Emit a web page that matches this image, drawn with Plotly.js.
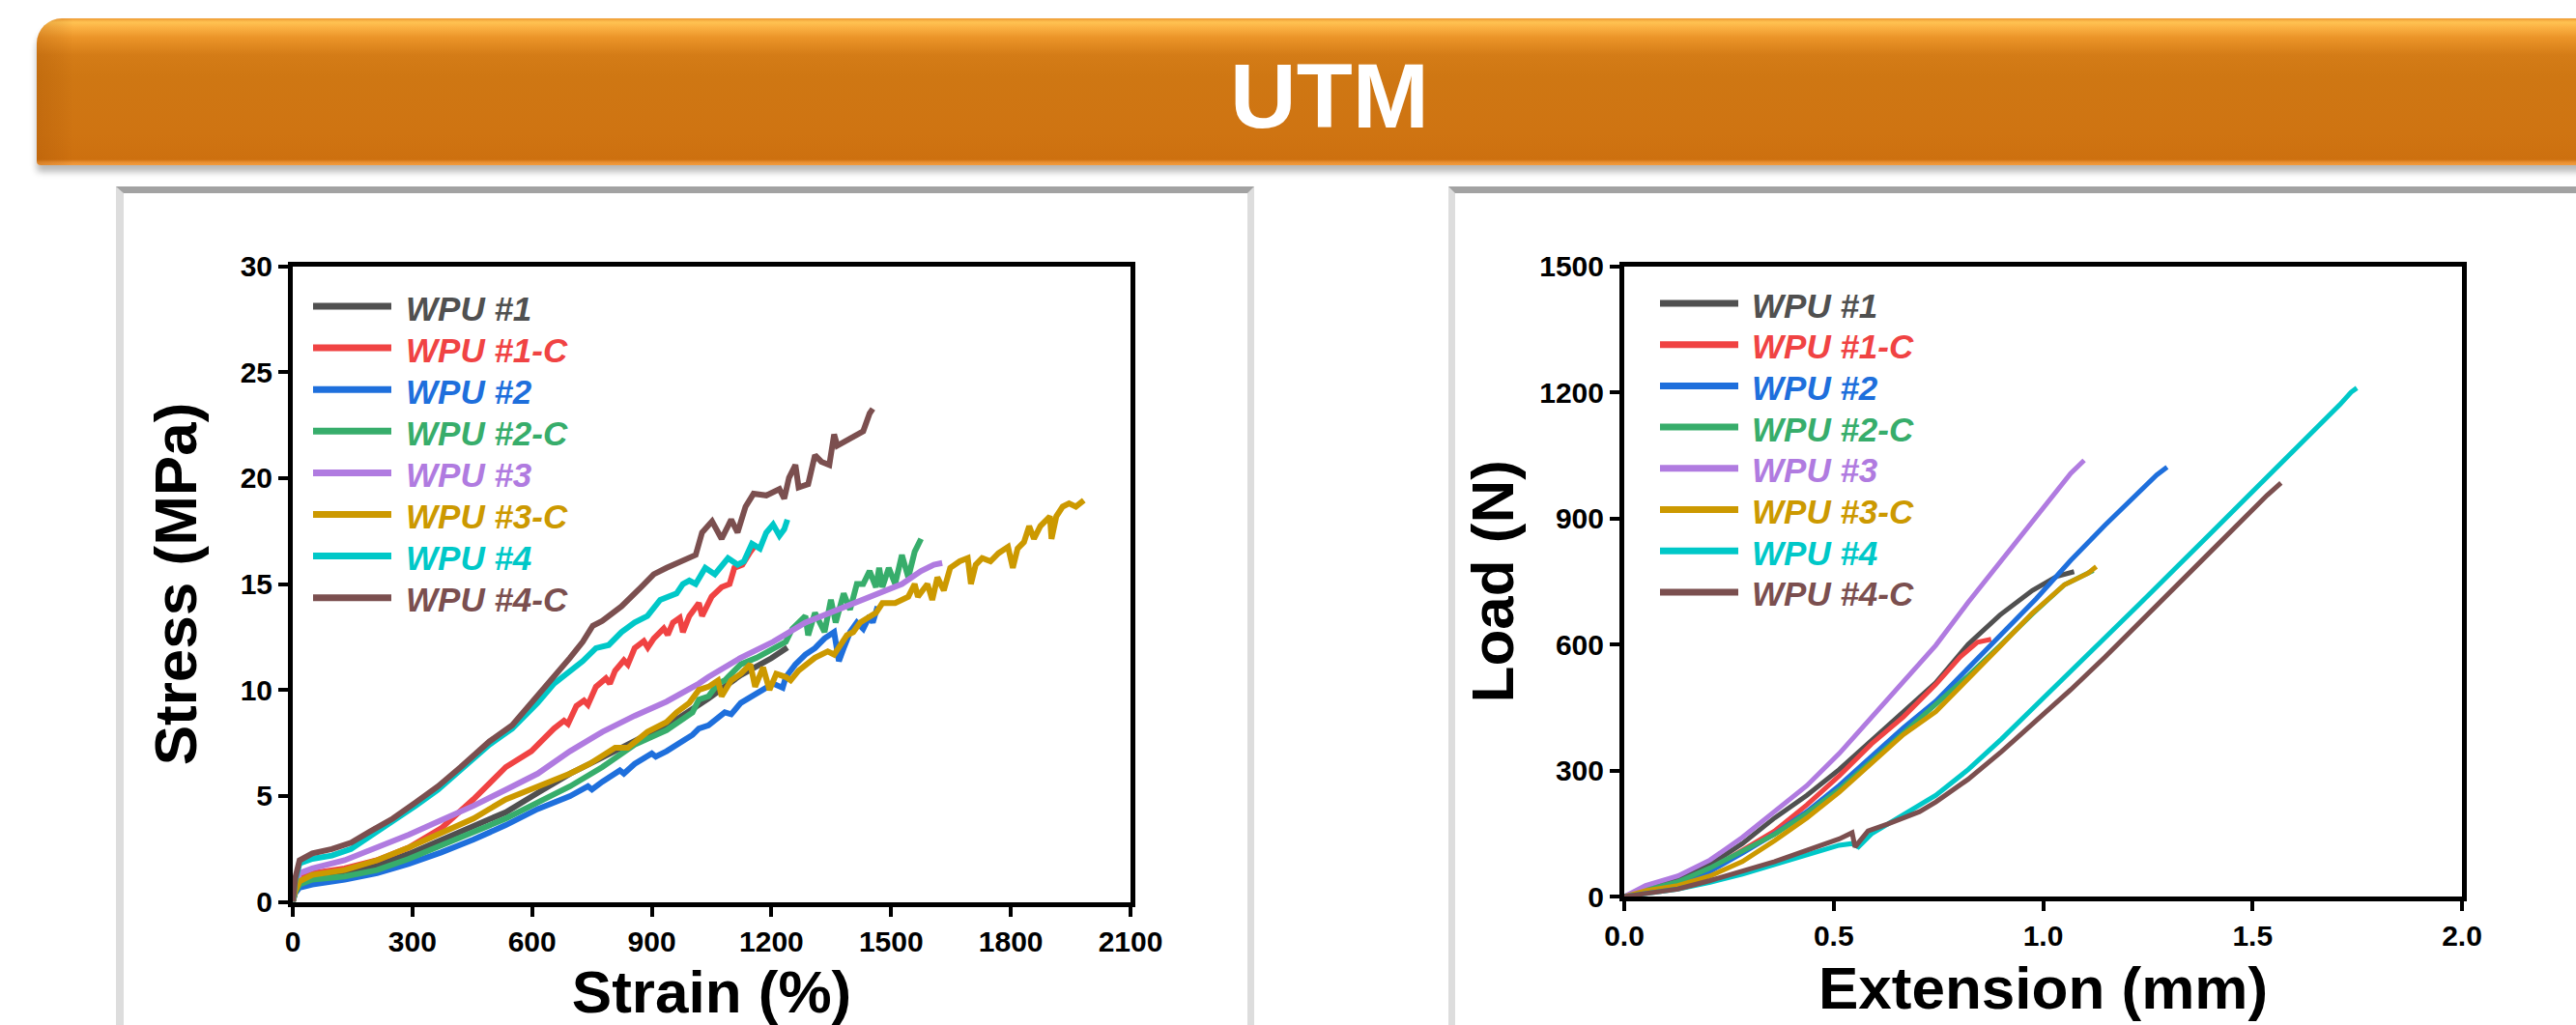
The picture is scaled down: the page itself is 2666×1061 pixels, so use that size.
<!DOCTYPE html>
<html>
<head>
<meta charset="utf-8">
<script src="https://cdn.plot.ly/plotly-3.0.1.min.js"></script>
<style>
  html, body { margin:0; padding:0; background:#ffffff; overflow:hidden; }
  #stage { position:relative; width:2666px; height:1061px; overflow:hidden; background:#fff; }
  #banner {
    position:absolute; left:38px; top:19px; width:2700px; height:152px;
    border-top-left-radius:26px; border-bottom-left-radius:4px;
    background:linear-gradient(to bottom,#ee9a34 0px,#ffc352 4px,#fbb244 9px,#eb9428 20px,#d47c17 38px,#cf7713 60px,#cf7412 120px,#cd700f 146px,#e98f33 149px,#f29c3e 152px);
    box-shadow:0 7px 7px rgba(0,0,0,0.28);
  }
  #bevel {
    position:absolute; left:0; top:0; width:38px; height:152px;
    border-top-left-radius:26px; border-bottom-left-radius:4px;
    background:linear-gradient(to right, rgba(150,70,0,0.22), rgba(150,70,0,0.08) 70%, rgba(150,70,0,0));
  }
  .panel { position:absolute; top:193px; height:900px; background:#fff; box-sizing:border-box;
    border-top:7px solid #a2a2a2; }
  #panelL { left:120px; width:1178px; border-left:8px solid #dddddd; border-right:7px solid #dddddd; }
  #panelR { left:1499px; width:1300px; border-left:7px solid #dddddd; }
  #plot { position:absolute; left:0; top:0; width:2666px; height:1061px; }
</style>
</head>
<body>
<div id="stage">
  <div id="banner"><div id="bevel"></div></div>
  <div class="panel" id="panelL"></div>
  <div class="panel" id="panelR"></div>
  <div id="plot"></div>
</div>
<script>
// ---------------- DATA ----------------
const seriesNames = ["WPU #1","WPU #1-C","WPU #2","WPU #2-C","WPU #3","WPU #3-C","WPU #4","WPU #4-C"];
const seriesColors = ["#505050","#f04343","#1e6fdc","#37ad6b","#b07be0","#cc9900","#00c8c8","#7b4f4f"];

const xTicksStrain = [0,300,600,900,1200,1500,1800,2100];
const yTicksStress = [0,5,10,15,20,25,30];
const xTicksExt = [0,0.5,1.0,1.5,2.0];
const yTicksLoad = [0,300,600,900,1200,1500];

// Stress (MPa) vs Strain (%)
const strain1 = [0,6,17,49,130,211,291,372,453,534,614,695,776,840,889,962,1042,1123,1200,1240];
const stress1 = [0,0.5,0.90,1.12,1.35,1.73,2.26,2.94,3.62,4.23,5.14,6.05,6.81,7.42,7.88,8.6,9.6,10.7,11.5,12.0];

const strain1C = [0,6,17,49,130,211,291,372,453,534,598,655,680,690,711,730,740,760,785,795,808,830,840,857,880,890,905,930,940,953,970,978,994,1018,1026,1050,1075,1095,1107,1127,1147,1159];
const stress1C = [0,0.6,1.2,1.35,1.58,1.96,2.56,3.47,4.84,6.36,7.11,8.18,8.55,8.4,9.24,9.5,9.3,10.15,10.55,10.3,10.91,11.4,11.2,11.97,12.3,12.0,12.43,12.9,12.6,13.18,13.4,12.73,13.49,14.1,13.49,14.40,14.85,15.0,15.76,15.91,16.52,16.82];

const strain2 = [0,6,17,49,130,211,291,372,453,534,614,695,740,750,776,820,830,857,900,910,937,962,1002,1018,1042,1083,1099,1123,1163,1204,1228,1236,1260,1285,1309,1333,1357,1369,1381,1397,1414,1430,1446,1454,1466];
const stress2 = [0,0.4,0.67,0.82,1.05,1.35,1.80,2.33,2.94,3.62,4.38,4.99,5.45,5.3,5.67,6.2,6.05,6.51,7.0,6.85,7.11,7.42,7.88,8.18,8.33,8.94,8.85,9.39,9.85,10.30,10.1,10.61,11.21,11.67,11.97,12.43,12.73,11.36,11.97,12.73,13.18,12.88,13.49,13.18,13.94];

const strain2C = [0,6,17,49,130,211,291,372,453,534,614,695,776,857,937,962,1002,1018,1042,1066,1083,1091,1123,1163,1204,1236,1252,1268,1285,1292,1309,1333,1349,1361,1381,1397,1414,1430,1446,1462,1470,1478,1494,1510,1527,1543,1559,1575];
const stress2C = [0,0.45,0.82,1.05,1.20,1.50,2.03,2.64,3.32,3.93,4.69,5.45,6.36,7.42,8.1,8.4,8.94,9.54,9.70,10.30,10.45,10.61,11.21,11.52,11.97,12.27,12.88,13.18,13.49,12.58,13.64,12.73,14.25,13.18,14.55,13.79,15.0,15.0,15.61,14.85,15.76,14.85,15.76,15.0,16.37,15.31,16.52,17.13];

const strain3 = [0,6,17,49,130,211,291,372,453,534,614,695,776,857,937,1018,1042,1123,1204,1285,1365,1446,1527,1575,1607,1628];
const stress3 = [0,0.7,1.35,1.58,1.96,2.56,3.17,3.85,4.53,5.29,6.05,7.11,8.02,8.78,9.45,10.3,10.61,11.52,12.27,13.18,13.79,14.40,15.0,15.61,15.91,15.99];

const strain3C = [0,6,17,49,130,211,291,372,453,534,614,695,744,808,840,889,937,962,994,1018,1042,1066,1075,1099,1123,1147,1159,1179,1195,1212,1236,1248,1268,1309,1341,1357,1389,1405,1422,1462,1478,1510,1543,1559,1567,1591,1603,1616,1632,1648,1672,1692,1700,1712,1728,1749,1769,1793,1805,1817,1833,1846,1858,1874,1898,1902,1914,1930,1946,1963,1983];
const stress3C = [0,0.5,0.97,1.27,1.50,1.96,2.56,3.25,3.93,4.84,5.45,6.05,6.51,7.27,7.27,8.02,8.48,8.94,9.39,10.0,10.15,10.45,9.70,10.45,10.76,11.21,10.15,11.06,10.0,10.76,10.61,10.45,10.91,11.52,11.82,11.67,12.58,12.73,13.18,13.64,14.1,14.1,14.40,15.0,14.40,15.0,14.25,15.31,14.70,15.76,16.07,16.22,15.0,15.91,16.22,16.07,16.45,16.75,15.76,16.67,16.98,17.73,17.13,17.73,18.19,17.13,18.19,18.65,18.80,18.65,18.95];

const strain4 = [0,6,17,49,98,146,194,251,308,364,421,493,550,614,655,695,727,760,792,824,857,889,921,962,978,994,1010,1034,1058,1091,1115,1131,1151,1171,1187,1204,1220,1232,1240];
const stress4 = [0,1.0,1.81,2.03,2.18,2.49,3.10,3.78,4.53,5.29,6.20,7.42,8.18,9.39,10.30,10.91,11.36,11.97,12.12,12.73,13.18,13.49,14.25,14.55,15.0,15.16,15.0,15.76,15.46,16.22,15.91,16.07,16.90,16.67,17.43,17.81,17.28,17.58,18.04];

const strain4C = [0,6,17,49,98,146,194,251,308,364,421,493,550,614,655,695,727,752,776,824,873,905,937,962,994,1010,1026,1042,1051,1075,1099,1115,1135,1155,1187,1220,1232,1244,1260,1268,1292,1309,1325,1345,1357,1365,1397,1430,1446,1454];
const stress4C = [0,1.1,1.96,2.29,2.49,2.79,3.32,3.93,4.69,5.45,6.36,7.57,8.33,9.70,10.61,11.52,12.27,13.03,13.26,13.94,14.85,15.46,15.76,15.99,16.22,16.37,17.43,17.73,17.96,17.13,18.04,17.43,18.65,19.26,19.18,19.48,19.03,20.01,20.62,19.56,19.71,21.08,20.77,20.62,22.06,21.53,21.83,22.21,23.05,23.27];

// Load (N) vs Extension (mm)
const ext1 = [0,0.051,0.128,0.205,0.282,0.359,0.436,0.513,0.590,0.667,0.744,0.821,0.897,0.974,1.033,1.074];
const load1 = [0,18,41,76,126,187,241,302,371,440,509,600,670,728,762,773];
const ext1C = [0,0.051,0.128,0.205,0.282,0.359,0.436,0.513,0.590,0.667,0.744,0.802,0.843,0.876];
const load1C = [0,12,34,64,110,156,218,287,363,428,505,570,605,612];
const ext2 = [0,0.051,0.128,0.205,0.282,0.359,0.436,0.513,0.590,0.667,0.744,0.821,0.901,0.983,1.066,1.148,1.230,1.271,1.296];
const load2 = [0,10,30,60,103,149,202,264,333,402,465,545,625,708,800,884,961,1003,1022];
const ext2C = [0,0.051,0.128,0.205,0.282,0.359,0.436,0.513,0.590,0.667,0.744,0.821,0.897,0.974,1.051,1.12];
const load2C = [0,16,35,68,108,148,198,255,322,390,455,525,597,672,742,776];
const ext3 = [0,0.051,0.128,0.205,0.282,0.359,0.436,0.513,0.590,0.667,0.744,0.821,0.897,0.974,1.066,1.098];
const load3 = [0,26,49,87,141,202,264,340,425,509,598,700,795,893,1007,1038];
const ext3C = [0,0.051,0.128,0.205,0.282,0.359,0.436,0.513,0.590,0.667,0.744,0.821,0.897,0.974,1.051,1.107,1.127];
const load3C = [0,14,26,49,83,133,187,248,317,386,440,520,595,674,742,769,785];
const ext4 = [0,0.051,0.128,0.205,0.282,0.359,0.436,0.513,0.544,0.559,0.590,0.667,0.744,0.821,0.901,0.983,1.066,1.148,1.230,1.313,1.395,1.477,1.560,1.642,1.708,1.735,1.749];
const load4 = [0,7,18,34,53,76,99,122,126,118,149,195,241,302,375,455,535,615,696,778,859,940,1023,1104,1170,1200,1210];
const ext4C = [0,0.051,0.128,0.205,0.282,0.359,0.436,0.513,0.544,0.551,0.582,0.628,0.705,0.744,0.821,0.901,0.983,1.066,1.148,1.230,1.313,1.395,1.477,1.535,1.568];
const load4C = [0,7,18,38,60,83,110,137,152,118,156,172,202,225,279,345,418,492,570,652,733,815,897,955,984];

const leftX = [strain1,strain1C,strain2,strain2C,strain3,strain3C,strain4,strain4C];
const leftY = [stress1,stress1C,stress2,stress2C,stress3,stress3C,stress4,stress4C];
const rightX = [ext1,ext1C,ext2,ext2C,ext3,ext3C,ext4,ext4C];
const rightY = [load1,load1C,load2,load2C,load3,load3C,load4,load4C];

// ---------------- LAYOUT ----------------
const W = 2666, H = 1061;
const fx = p => p / W;
const fy = p => 1 - p / H;
const FONT = "Liberation Sans, Arial, Helvetica, sans-serif";
const NB = "\u00A0";

const traces = [];
for (let i = 0; i < 8; i++) {
  traces.push({x: leftX[i], y: leftY[i], type:'scatter', mode:'lines', name: seriesNames[i],
    line:{color: seriesColors[i], width:6}, xaxis:'x', yaxis:'y', showlegend:false, hoverinfo:'skip'});
}
for (let i = 0; i < 8; i++) {
  traces.push({x: rightX[i], y: rightY[i], type:'scatter', mode:'lines', name: seriesNames[i],
    line:{color: seriesColors[i], width:5}, xaxis:'x2', yaxis:'y2', showlegend:false, hoverinfo:'skip'});
}

const tickFont = {family: FONT, size: 30, color:'#000', weight: 700};
const titleFont = {family: FONT, size: 62, color:'#000', weight: 700};
function axis(domain, range, tickvals, extra) {
  return Object.assign({
    domain: domain, range: range, tickmode:'array', tickvals: tickvals,
    showgrid:false, zeroline:false, showline:true, linecolor:'#000', linewidth:5, mirror:true,
    ticks:'outside', ticklen:10, tickwidth:4, tickcolor:'#000', tickfont: tickFont,
    fixedrange:true
  }, extra);
}

const shapes = [];
const annotations = [];
function addLegend(lineX0, lineX1, textX, rowY0, rowStep) {
  for (let i = 0; i < seriesNames.length; i++) {
    const yy = rowY0 + rowStep * i;
    shapes.push({type:'line', xref:'paper', yref:'paper', x0: fx(lineX0), x1: fx(lineX1), y0: fy(yy), y1: fy(yy),
      line:{color: seriesColors[i], width:7}});
    annotations.push({xref:'paper', yref:'paper', x: fx(textX), y: fy(yy + 2), xanchor:'left', yanchor:'middle',
      text: seriesNames[i], showarrow:false,
      font:{family: FONT, size:35, color: seriesColors[i], weight:700, style:'italic'}});
  }
}
addLegend(324, 405, 418, 317, 43.1);
addLegend(1718, 1799, 1811, 314, 42.7);

const layout = {
  width: W, height: H,
  margin:{l:0, r:0, t:0, b:0, pad:0},
  paper_bgcolor:'rgba(0,0,0,0)', plot_bgcolor:'#ffffff',
  showlegend:false,
  title:{text:'UTM', x: fx(1376), xref:'container', xanchor:'center', y: fy(99), yref:'container', yanchor:'middle',
    font:{family: FONT, size: 95, color:'#ffffff', weight:700}},
  xaxis: axis([fx(303), fx(1170)], [0, 2100], xTicksStrain,
    {anchor:'y', title:{text:'Strain (%)', font: titleFont, standoff: 18}}),
  yaxis: axis([fy(933.5), fy(275.5)], [0, 30], yTicksStress,
    {anchor:'x', title:{text: NB + NB + 'Stress (MPa)', font: titleFont, standoff: 26}}),
  xaxis2: axis([fx(1681), fx(2548)], [0, 2], xTicksExt,
    {anchor:'y2', tickformat:'.1f', title:{text:'Extension (mm)', font: titleFont, standoff: 18}}),
  yaxis2: axis([fy(928), fy(275.5)], [0, 1500], yTicksLoad,
    {anchor:'x2', title:{text: NB + 'Load (N)', font: titleFont, standoff: 8}}),
  shapes: shapes,
  annotations: annotations
};

Plotly.newPlot('plot', traces, layout, {staticPlot:true, displayModeBar:false});
</script>
</body>
</html>
